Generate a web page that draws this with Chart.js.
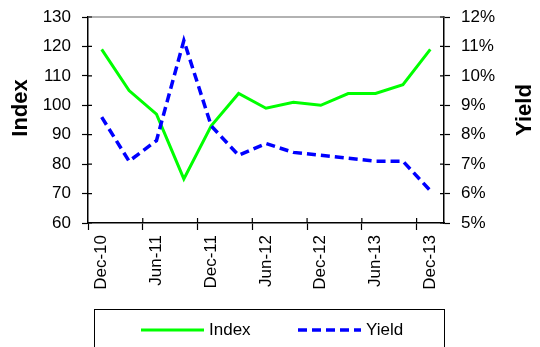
<!DOCTYPE html>
<html>
<head>
<meta charset="utf-8">
<script src="https://cdn.jsdelivr.net/npm/chart.js@4.4.1/dist/chart.umd.min.js"></script>
<style>
  html, body { margin: 0; padding: 0; background: #fff; }
  #wrap { width: 540px; height: 347px; position: relative; }
</style>
</head>
<body>
<div id="wrap"><canvas id="c"></canvas></div>
<script>
// Quarterly observations, Dec-10 to Dec-13
const quarters = ['Dec-10', 'Mar-11', 'Jun-11', 'Sep-11', 'Dec-11', 'Mar-12', 'Jun-12',
                  'Sep-12', 'Dec-12', 'Mar-13', 'Jun-13', 'Sep-13', 'Dec-13'];
const indexValues = [119, 105, 97, 75, 93, 104, 99, 101, 100, 104, 104, 107, 119];
const yieldValues = [8.6, 7.1, 7.8, 11.2, 8.3, 7.3, 7.7, 7.4, 7.3, 7.2, 7.1, 7.1, 6.1];

const indexAxis = { min: 60, max: 130, step: 10 };
const yieldAxis = { min: 5, max: 12, step: 1 };

const FONT = "'Liberation Sans', Arial, sans-serif";
const INK = '#000';

// Frame extras: grey top edge, inward tick stubs, axis titles and boxed legend
const frame = {
  id: 'frame',
  afterDraw(chart) {
    const { ctx, chartArea: a, scales } = chart;
    ctx.save();

    // grey top edge of the plot
    ctx.strokeStyle = '#999';
    ctx.lineWidth = 1.5;
    ctx.beginPath();
    ctx.moveTo(a.left, a.top);
    ctx.lineTo(a.right, a.top);
    ctx.stroke();

    // tick marks cross the axes: add the inner part
    ctx.strokeStyle = INK;
    ctx.lineWidth = 1.2;
    ctx.beginPath();
    scales.y.ticks.forEach(t => {
      const py = scales.y.getPixelForValue(t.value);
      ctx.moveTo(a.left, py); ctx.lineTo(a.left + 4, py);
    });
    scales.y1.ticks.forEach(t => {
      const py = scales.y1.getPixelForValue(t.value);
      ctx.moveTo(a.right - 4, py); ctx.lineTo(a.right, py);
    });
    const half = (scales.x.getPixelForValue(1) - scales.x.getPixelForValue(0)) / 2;
    for (let i = 2; i < quarters.length; i += 2) {
      const px = scales.x.getPixelForValue(i) - half;
      ctx.moveTo(px, a.bottom); ctx.lineTo(px, a.bottom - 5);
    }
    ctx.stroke();

    // axis titles, both reading bottom-to-top
    ctx.fillStyle = INK;
    ctx.font = `bold 22px ${FONT}`;
    ctx.textAlign = 'center';
    ctx.textBaseline = 'middle';
    [['Index', 21, 108], ['Yield', 525, 110]].forEach(([txt, x, y]) => {
      ctx.save();
      ctx.translate(x, y);
      ctx.rotate(-Math.PI / 2);
      ctx.fillText(txt, 0, 0);
      ctx.restore();
    });

    // legend box below the axis
    const boxL = a.left + 6, boxT = a.bottom + 86, boxR = a.right;
    ctx.strokeStyle = INK;
    ctx.lineWidth = 1;
    ctx.strokeRect(Math.round(boxL) + 0.5, Math.round(boxT) + 0.5, boxR - boxL, 60);

    const rowY = boxT + 21;
    const starts = [boxL + 47, boxL + 204];
    ctx.font = `17px ${FONT}`;
    ctx.textAlign = 'left';
    chart.data.datasets.forEach((ds, i) => {
      const x0 = starts[i];
      ctx.strokeStyle = ds.borderColor;
      ctx.lineWidth = ds.borderWidth;
      ctx.setLineDash(ds.borderDash || []);
      ctx.beginPath();
      ctx.moveTo(x0, rowY);
      ctx.lineTo(x0 + 63, rowY);
      ctx.stroke();
      ctx.setLineDash([]);
      ctx.fillStyle = INK;
      ctx.fillText(ds.label, x0 + 68, rowY);
    });

    ctx.restore();
  }
};

// fixed axis sizes so the plot area sits where it should
const fixWidth = w => s => { s.width = w; s.paddingTop = 0; s.paddingBottom = 0; };

new Chart(document.getElementById('c'), {
  type: 'line',
  data: {
    labels: quarters,
    datasets: [
      {
        label: 'Index',
        data: indexValues,
        yAxisID: 'y',
        borderColor: '#00ff00',
        borderWidth: 3,
        pointRadius: 0,
        tension: 0,
        order: 1
      },
      {
        label: 'Yield',
        data: yieldValues,
        yAxisID: 'y1',
        borderColor: '#0000ff',
        borderWidth: 3.5,
        borderDash: [9, 5],
        pointRadius: 0,
        tension: 0,
        order: 0
      }
    ]
  },
  options: {
    responsive: true,
    maintainAspectRatio: false,
    animation: false,
    events: [],
    layout: { padding: { top: 17, bottom: 40, left: 0, right: 0 } },
    plugins: { legend: { display: false }, tooltip: { enabled: false } },
    scales: {
      x: {
        offset: true,
        grid: {
          offset: true,
          drawOnChartArea: false,
          drawTicks: true,
          tickLength: 7,
          tickWidth: 1.2,
          color: c => (c.index % 2 === 0 ? INK : 'rgba(0,0,0,0)')
        },
        border: { display: true, color: INK, width: 1.5 },
        ticks: {
          autoSkip: false,
          maxRotation: 90,
          minRotation: 90,
          padding: 5,
          color: INK,
          font: { family: FONT, size: 17 },
          callback: (v, i) => (i % 2 === 0 ? quarters[i] : '')
        },
        afterFit: s => { s.height = 84; s.paddingLeft = 0; s.paddingRight = 0; }
      },
      y: {
        position: 'left',
        min: indexAxis.min,
        max: indexAxis.max,
        grid: { drawOnChartArea: false, tickLength: 6, tickWidth: 1.2, color: INK },
        border: { display: true, color: INK, width: 1.5 },
        ticks: {
          stepSize: indexAxis.step,
          padding: 11,
          color: INK,
          font: { family: FONT, size: 17 }
        },
        afterFit: fixWidth(88)
      },
      y1: {
        position: 'right',
        min: yieldAxis.min,
        max: yieldAxis.max,
        grid: { drawOnChartArea: false, tickLength: 6, tickWidth: 1.2, color: INK },
        border: { display: true, color: INK, width: 1.5 },
        ticks: {
          stepSize: yieldAxis.step,
          padding: 11,
          color: INK,
          font: { family: FONT, size: 17 },
          callback: v => v + '%'
        },
        afterFit: fixWidth(96)
      }
    }
  },
  plugins: [frame]
});
</script>
</body>
</html>
